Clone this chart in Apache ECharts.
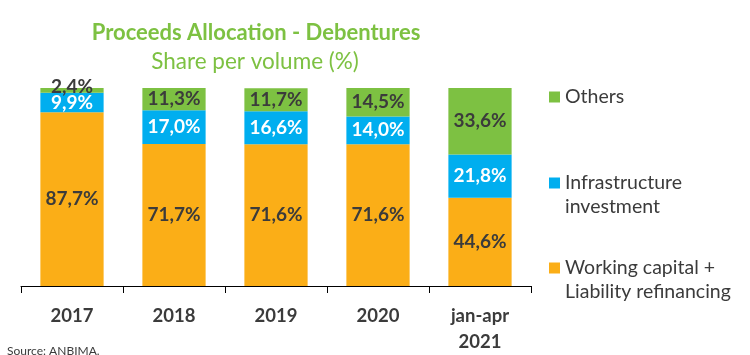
<!DOCTYPE html>
<html>
<head>
<meta charset="utf-8">
<script src="https://cdn.jsdelivr.net/npm/echarts@6/dist/echarts.min.js"></script>
<style>
html,body{margin:0;padding:0;background:#fff;}
#chart{width:750px;height:355px;}
</style>
</head>
<body>
<div id="chart"></div>
<script>
var categories = ['2017', '2018', '2019', '2020', 'jan-apr\n2021'];
var workingCapital = [87.7, 71.7, 71.6, 71.6, 44.6];
var infrastructure = [9.9, 17.0, 16.6, 14.0, 21.8];
var others = [2.4, 11.3, 11.7, 14.5, 33.6];
var seriesNames = ['Working capital +\nLiability refinancing', 'Infrastructure\ninvestment', 'Others'];
var titleText = 'Proceeds Allocation - Debentures';
var subtitleText = 'Share per volume (%)';
var sourceText = 'Source: ANBIMA.';

var FONT = 'Lato';
var DARK = '#3b3b3b';
var colors = ['#FBAE17', '#00AEEF', '#7DC142'];

function fmt(p) { return p.value.toFixed(1).replace('.', ',') + '%'; }

function mkSeries(name, data, color, labelColor) {
  return {
    name: name,
    type: 'bar',
    stack: 'total',
    data: data,
    barWidth: '62%',
    itemStyle: { color: color },
    label: {
      show: true,
      position: 'inside',
      formatter: fmt,
      color: labelColor,
      fontFamily: FONT,
      fontWeight: 'bold',
      fontSize: 19
    },
    labelLayout: function (p) {
      return p.rect.height < 10 ? { dy: -4 } : {};
    }
  };
}

var legendCommon = {
  orient: 'vertical',
  left: 549,
  padding: 0,
  itemWidth: 11,
  itemHeight: 11,
  itemGap: 0,
  selectedMode: false,
  icon: 'rect',
  textStyle: { fontFamily: FONT, fontSize: 19.5, color: DARK, lineHeight: 24 }
};

var chart = echarts.init(document.getElementById('chart'), null, { renderer: 'canvas' });
chart.setOption({
  animation: false,
  title: [
    { text: titleText, left: 251, top: 28, textAlign: 'center', textVerticalAlign: 'middle',
      textStyle: { fontFamily: FONT, fontWeight: 'bold', fontSize: 22, color: '#7DC142' } },
    { text: subtitleText, left: 250, top: 57, textAlign: 'center', textVerticalAlign: 'middle',
      textStyle: { fontFamily: FONT, fontWeight: 'normal', fontSize: 22.5, color: '#7DC142' } },
    { text: sourceText, left: 7, top: 344, padding: 0,
      textStyle: { fontFamily: FONT, fontWeight: 'normal', fontSize: 12, color: DARK, lineHeight: 14 } }
  ],
  legend: [
    Object.assign({}, legendCommon, { top: 85, data: [seriesNames[2]] }),
    Object.assign({}, legendCommon, { top: 147, data: [seriesNames[1]],
      formatter: function (n) { return '\n' + n; } }),
    Object.assign({}, legendCommon, { top: 232, data: [seriesNames[0]],
      formatter: function (n) { return '\n' + n; } })
  ],
  grid: { left: 21, right: 219, top: 88, bottom: 68, containLabel: false },
  xAxis: {
    type: 'category',
    data: categories,
    axisLine: { lineStyle: { color: '#000', width: 1 } },
    axisTick: { show: true, length: 7, lineStyle: { color: '#000' } },
    axisLabel: { margin: 17, fontFamily: FONT, fontWeight: 'bold', fontSize: 18.5, color: DARK, lineHeight: 26 }
  },
  yAxis: {
    type: 'value', min: 0, max: 100, show: false,
    splitLine: { show: false }
  },
  series: [
    mkSeries(seriesNames[0], workingCapital, colors[0], DARK),
    mkSeries(seriesNames[1], infrastructure, colors[1], '#ffffff'),
    mkSeries(seriesNames[2], others, colors[2], DARK)
  ]
});
</script>
</body>
</html>
